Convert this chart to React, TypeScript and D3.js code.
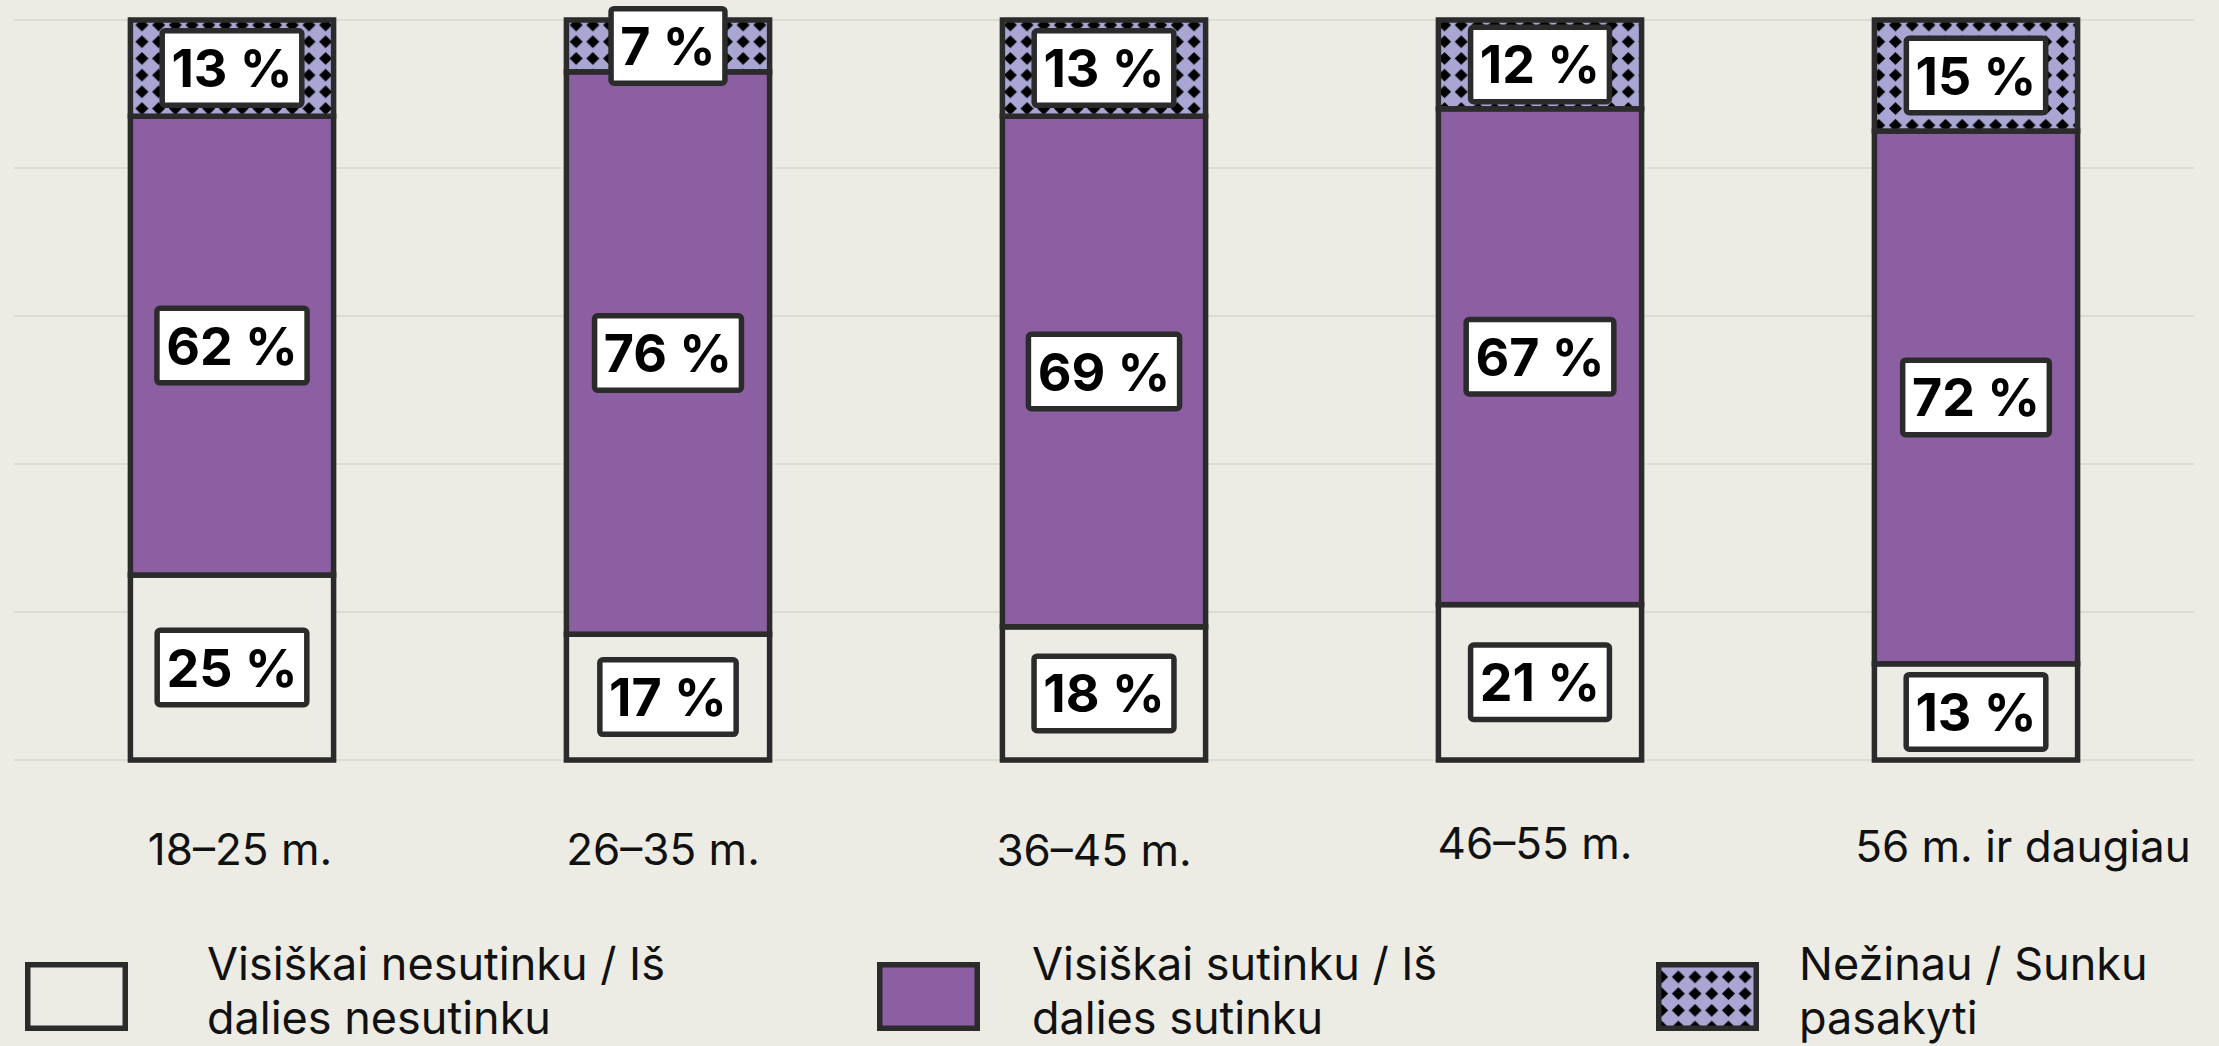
import React, { useEffect, useRef } from "react";
import * as d3 from "d3";

const categories = ["18–25 m.", "26–35 m.", "36–45 m.", "46–55 m.", "56 m. ir daugiau"];
const disagree = [25, 17, 18, 21, 13];
const agree = [62, 76, 69, 67, 72];
const dontKnow = [13, 7, 13, 12, 15];
const seriesKeys = ["disagree", "agree", "dontKnow"];
const legendLabels = [
  ["Visiškai nesutinku / Iš", "dalies nesutinku"],
  ["Visiškai sutinku / Iš", "dalies sutinku"],
  ["Nežinau / Sunku", "pasakyti"],
];
const yTicks = [0, 20, 40, 60, 80, 100];

// layout (not data)
const W = 2219;
const H = 1046;
const labelDx = [8, -5, -10, -5, 47];
const labelY = [865, 865, 866, 859, 862];
const legendX = [25, 877, 1656];
const legendTextX = [207, 1032, 1799];

const BG = "#ecebe4";
const PURPLE = "#8b5fa1";
const LAV = "#aaa6d4";
const DARK = "#2b2b2b";
const GRID = "#dcdbd4";

export default function App() {
  const ref = useRef<SVGSVGElement>(null);

  useEffect(() => {
    const svg = d3.select(ref.current);
    svg.selectAll("*").remove();

    const defs = svg.append("defs");
    const T = 16.7;
    const pat = defs
      .append("pattern")
      .attr("id", "diamonds")
      .attr("patternUnits", "userSpaceOnUse")
      .attr("width", T)
      .attr("height", T);
    pat.append("rect").attr("width", T).attr("height", T).attr("fill", LAV);
    const c = T / 2;
    const r = 6.5;
    pat
      .append("path")
      .attr("d", `M${c},${c - r}L${c + r},${c}L${c},${c + r}L${c - r},${c}Z`)
      .attr("fill", "#000");

    const data = categories.map((cat, i) => ({
      cat,
      disagree: disagree[i],
      agree: agree[i],
      dontKnow: dontKnow[i],
    }));

    const x = d3
      .scaleBand<string>()
      .domain(categories)
      .range([14, 2194])
      .paddingInner(0.534)
      .paddingOuter(0.267);
    const y = d3.scaleLinear().domain([0, 100]).range([760, 20]);

    svg.append("rect").attr("width", W).attr("height", H).attr("fill", BG);

    svg
      .append("g")
      .selectAll("line")
      .data(yTicks)
      .join("line")
      .attr("x1", 14)
      .attr("x2", 2194)
      .attr("y1", (d) => y(d))
      .attr("y2", (d) => y(d))
      .attr("stroke", GRID)
      .attr("stroke-width", 2);

    const stack = d3.stack<any>().keys(seriesKeys);
    const stacked = stack(data);
    const fills: Record<string, string> = {
      disagree: BG,
      agree: PURPLE,
      dontKnow: "url(#diamonds)",
    };

    const gBars = svg.append("g");
    stacked.forEach((s) => {
      gBars
        .append("g")
        .selectAll("rect")
        .data(s)
        .join("rect")
        .attr("x", (d: any) => x(d.data.cat)!)
        .attr("width", x.bandwidth())
        .attr("y", (d: any) => y(d[1]))
        .attr("height", (d: any) => y(d[0]) - y(d[1]))
        .attr("fill", fills[s.key])
        .attr("stroke", DARK)
        .attr("stroke-width", 5.5);
    });

    // value labels
    const gLab = svg.append("g");
    stacked.forEach((s) => {
      s.forEach((d: any) => {
        const cx = x(d.data.cat)! + x.bandwidth() / 2;
        const cy = (y(d[0]) + y(d[1])) / 2;
        const g = gLab.append("g");
        const rect = g.append("rect");
        const t = g
          .append("text")
          .attr("x", cx)
          .attr("y", cy + 19)
          .attr("text-anchor", "middle")
          .attr("font-family", "Inter, sans-serif")
          .attr("font-weight", 700)
          .attr("font-size", 52)
          .attr("fill", "#000")
          .text(`${d[1] - d[0]} %`);
        const tw = (t.node() as SVGTextElement).getComputedTextLength();
        const ow = tw + 24;
        const oh = 80;
        rect
          .attr("x", cx - ow / 2 + 2.75)
          .attr("y", cy - oh / 2 + 2.75)
          .attr("width", ow - 5.5)
          .attr("height", oh - 5.5)
          .attr("rx", 3)
          .attr("fill", "#fff")
          .attr("stroke", DARK)
          .attr("stroke-width", 5.5);
      });
    });

    // x labels
    svg
      .append("g")
      .selectAll("text")
      .data(categories)
      .join("text")
      .attr("x", (d, i) => x(d)! + x.bandwidth() / 2 + labelDx[i])
      .attr("y", (d, i) => labelY[i])
      .attr("text-anchor", "middle")
      .attr("font-family", "Inter, sans-serif")
      .attr("font-size", 44)
      .attr("fill", "#111")
      .text((d) => d);

    // legend
    const legendFills = [BG, PURPLE, "url(#diamonds)"];
    const gLeg = svg.append("g");
    legendLabels.forEach((lines, i) => {
      gLeg
        .append("rect")
        .attr("x", legendX[i] + 2.75)
        .attr("y", 962 + 2.75)
        .attr("width", 103 - 5.5)
        .attr("height", 69 - 5.5)
        .attr("fill", legendFills[i])
        .attr("stroke", DARK)
        .attr("stroke-width", 5.5);
      lines.forEach((ln, j) => {
        gLeg
          .append("text")
          .attr("x", legendTextX[i])
          .attr("y", 980 + j * 54)
          .attr("font-family", "Inter, sans-serif")
          .attr("font-size", 45)
          .attr("fill", "#111")
          .text(ln);
      });
    });
  }, []);

  return (
    <div style={{ position: "fixed", left: 0, top: 0, width: W, height: H, background: BG }}>
      <svg ref={ref} width={W} height={H} style={{ display: "block" }} />
    </div>
  );
}
